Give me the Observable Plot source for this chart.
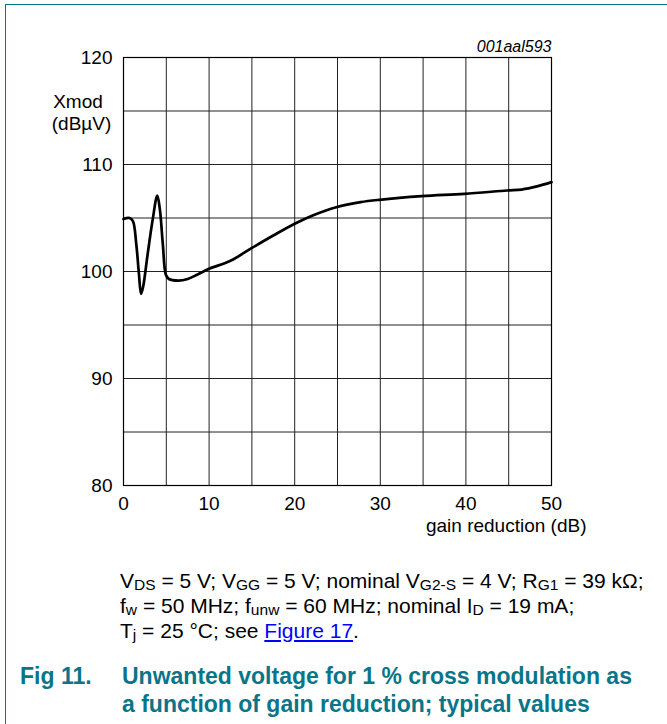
<!DOCTYPE html>
<html>
<head>
<meta charset="utf-8">
<script src="https://cdn.jsdelivr.net/npm/d3@7"></script>
<script src="https://cdn.jsdelivr.net/npm/@observablehq/plot@0.6"></script>
<style>
  html, body { margin: 0; padding: 0; background: #fff; }
  #page { position: relative; width: 667px; height: 724px; overflow: hidden; font-family: "Liberation Sans", Arial, sans-serif; }
  #chart { position: absolute; left: 0; top: 0; }
  .bt { position: absolute; left: 5px; top: 4px; right: 0; height: 0; border-top: 1.5px solid #00798f; }
  .bl { position: absolute; left: 5px; top: 4px; bottom: 0; width: 0; border-left: 1.5px solid #00798f; }
  #cond { position: absolute; left: 120px; top: 568px; font-size: 21px; line-height: 25px; color: #000; white-space: nowrap; }
  #cond sub { font-size: 0.74em; vertical-align: baseline; position: relative; top: 0.16em; line-height: 0; }
  #cond a { color: #0000ff; text-decoration: underline; }
  #title { position: absolute; left: 20px; top: 662px; font-size: 23px; line-height: 28px; font-weight: bold; color: #0a7589; white-space: nowrap; }
  #title .num { position: absolute; left: 0; top: 0; }
  #title .txt { position: absolute; left: 102px; top: 0; }
</style>
</head>
<body>
<div id="page">
  <div class="bt"></div>
  <div class="bl"></div>
  <div id="chart"></div>
  <div id="cond">
    V<sub>DS</sub> = 5 V; V<sub>GG</sub> = 5 V; nominal V<sub>G2-S</sub> = 4 V; R<sub>G1</sub> = 39 kΩ;<br>
    f<sub>w</sub> = 50 MHz; f<sub>unw</sub> = 60 MHz; nominal I<sub>D</sub> = 19 mA;<br>
    T<sub>j</sub> = 25 °C; see <a href="#">Figure 17</a>.
  </div>
  <div id="title">
    <span class="num">Fig 11.</span>
    <span class="txt">Unwanted voltage for 1 % cross modulation as<br>a function of gain reduction; typical values</span>
  </div>
</div>
<script>
// Data
const gainReduction = [0, 0.7, 1.1, 1.5, 1.8, 2.05, 2.3, 2.8, 3.4, 3.95, 4.25, 4.6, 4.95, 5.3, 6.4, 7.5, 8.6, 10, 12.5, 15, 17.5, 20, 22.1, 24.85, 27.7, 29.9, 34.85, 39.8, 44.8, 46.5, 48.3, 50];
const xmod = [104.9, 105.0, 104.7, 102.5, 99.8, 97.9, 98.6, 101.5, 104.8, 107.1, 105.8, 102.5, 99.7, 99.3, 99.15, 99.3, 99.7, 100.25, 101.0, 102.2, 103.36, 104.46, 105.23, 106.0, 106.48, 106.7, 107.04, 107.26, 107.57, 107.66, 107.95, 108.35];
const xTicks = [0, 10, 20, 30, 40, 50];
const yTicks = [80, 90, 100, 110, 120];
const xGrid = [0, 5, 10, 15, 20, 25, 30, 35, 40, 45, 50];
const yGrid = [80, 85, 90, 95, 100, 105, 110, 115, 120];
const xLabel = "gain reduction (dB)";
const yLabel1 = "Xmod";
const yLabel2 = "(dBµV)";
const figCode = "001aal593";

const points = gainReduction.map((g, i) => ({g, v: xmod[i]}));

const chart = Plot.plot({
  width: 667,
  height: 545,
  marginLeft: 123,
  marginRight: 116,
  marginTop: 57,
  marginBottom: 60,
  x: {domain: [0, 50]},
  y: {domain: [80, 120]},
  style: {fontFamily: "'Liberation Sans', Arial, sans-serif", fontSize: "19px", color: "#000", background: "transparent", overflow: "visible"},
  marks: [
    Plot.ruleX(xGrid, {stroke: "#222", strokeWidth: 1}),
    Plot.ruleY(yGrid, {stroke: "#222", strokeWidth: 1}),
    Plot.frame({stroke: "#000", strokeWidth: 1.2}),
    Plot.axisX(xTicks, {tickSize: 0, tickPadding: 11, label: null, fontSize: 19}),
    Plot.axisY(yTicks, {tickSize: 0, tickPadding: 11, label: null, fontSize: 19}),
    Plot.line(points, {x: "g", y: "v", curve: "catmull-rom", stroke: "#000", strokeWidth: 2.7}),
    Plot.text([xLabel], {text: d => d, frameAnchor: "bottom-right", textAnchor: "end", lineAnchor: "bottom", dx: 35, dy: 46, fontSize: 19}),
    Plot.text([yLabel1], {text: d => d, frameAnchor: "top-left", textAnchor: "middle", lineAnchor: "bottom", dx: -45.5, dy: 50, fontSize: 19}),
    Plot.text([yLabel2], {text: d => d, frameAnchor: "top-left", textAnchor: "middle", lineAnchor: "bottom", dx: -42, dy: 72, fontSize: 19}),
    Plot.text([figCode], {text: d => d, frameAnchor: "top-right", textAnchor: "end", lineAnchor: "bottom", dy: -6, fontSize: 16, fontStyle: "italic"})
  ]
});
document.getElementById("chart").appendChild(chart);
</script>
</body>
</html>
